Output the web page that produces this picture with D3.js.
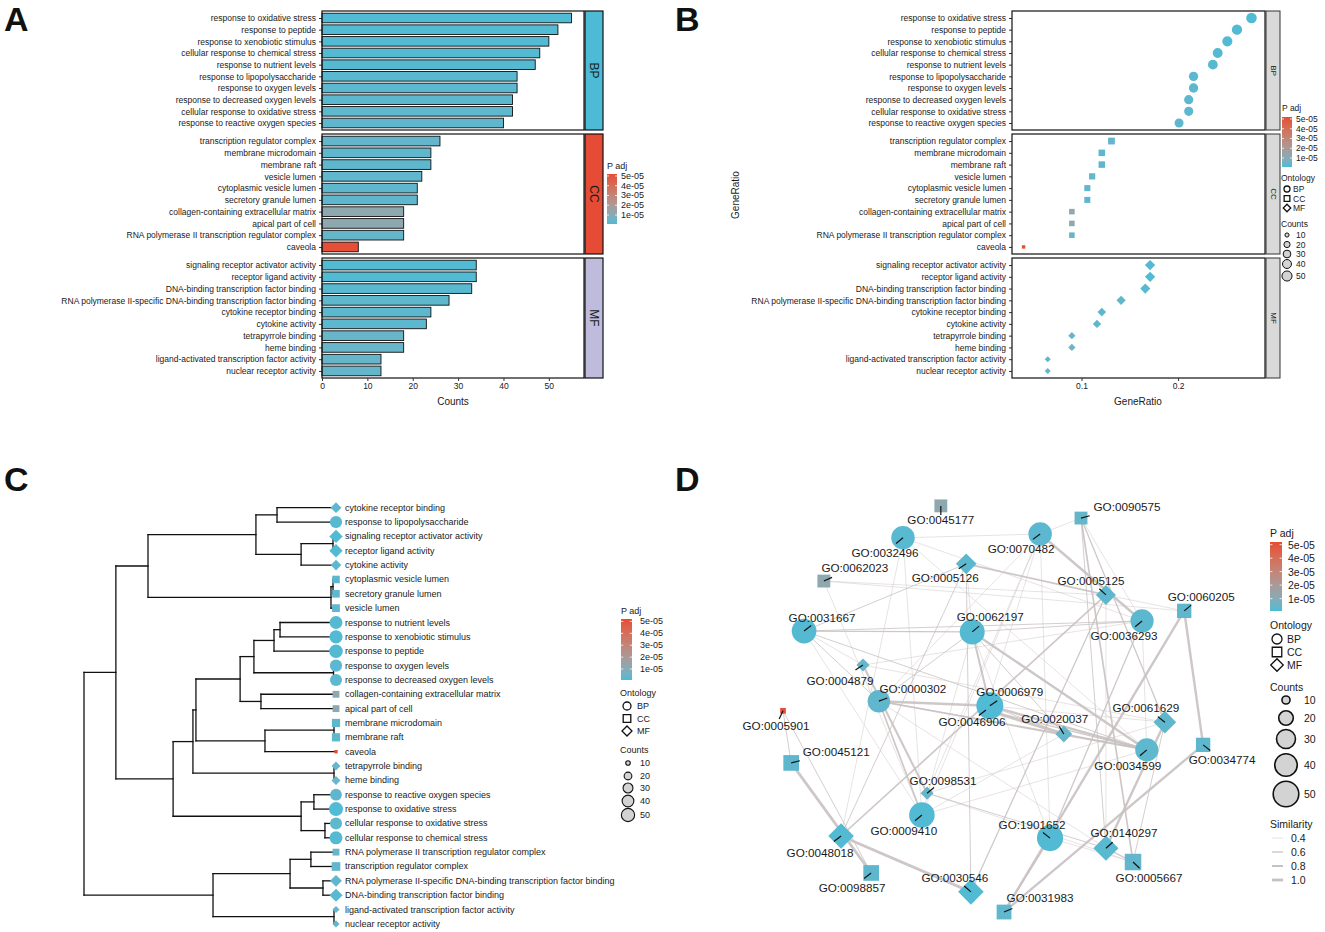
<!DOCTYPE html>
<html>
<head>
<meta charset="utf-8">
<script src="https://cdn.jsdelivr.net/npm/d3@7"></script>
<style>
  body { margin: 0; background: #fff; }
  svg text { font-family: Arial, "Liberation Sans", Helvetica, sans-serif; fill: #1a1a1a; }
</style>
</head>
<body>
<svg id="chart" width="1325" height="932"></svg>
<script>
// ---------------- data ----------------
const ontologies = ['BP', 'CC', 'MF'];

const bpNames = ['response to oxidative stress', 'response to peptide', 'response to xenobiotic stimulus',
  'cellular response to chemical stress', 'response to nutrient levels', 'response to lipopolysaccharide',
  'response to oxygen levels', 'response to decreased oxygen levels', 'cellular response to oxidative stress',
  'response to reactive oxygen species'];
const bpIds = ['GO:0006979', 'GO:1901652', 'GO:0009410', 'GO:0062197', 'GO:0031667', 'GO:0032496',
  'GO:0070482', 'GO:0036293', 'GO:0034599', 'GO:0000302'];
const bpCounts = [55, 52, 50, 48, 47, 43, 43, 42, 42, 40];
const bpRatio = [0.276, 0.261, 0.251, 0.241, 0.236, 0.216, 0.216, 0.211, 0.211, 0.201];
const bpPadj = [1.2e-6, 1.3e-6, 1.5e-6, 1.6e-6, 1.8e-6, 2.2e-6, 2.4e-6, 2.6e-6, 2.8e-6, 3.1e-6];

const ccNames = ['transcription regulator complex', 'membrane microdomain', 'membrane raft', 'vesicle lumen',
  'cytoplasmic vesicle lumen', 'secretory granule lumen', 'collagen-containing extracellular matrix',
  'apical part of cell', 'RNA polymerase II transcription regulator complex', 'caveola'];
const ccIds = ['GO:0005667', 'GO:0098857', 'GO:0045121', 'GO:0031983', 'GO:0060205', 'GO:0034774',
  'GO:0062023', 'GO:0045177', 'GO:0090575', 'GO:0005901'];
const ccCounts = [26, 24, 24, 22, 21, 21, 18, 18, 18, 8];
const ccRatio = [0.131, 0.121, 0.121, 0.111, 0.106, 0.106, 0.090, 0.090, 0.090, 0.040];
const ccPadj = [3.5e-6, 2.9e-6, 2.9e-6, 3.2e-6, 3.0e-6, 3.0e-6, 1.2e-5, 1.2e-5, 4.0e-6, 5.1e-5];

const mfNames = ['signaling receptor activator activity', 'receptor ligand activity',
  'DNA-binding transcription factor binding', 'RNA polymerase II-specific DNA-binding transcription factor binding',
  'cytokine receptor binding', 'cytokine activity', 'tetrapyrrole binding', 'heme binding',
  'ligand-activated transcription factor activity', 'nuclear receptor activity'];
const mfIds = ['GO:0030546', 'GO:0048018', 'GO:0140297', 'GO:0061629', 'GO:0005126', 'GO:0005125',
  'GO:0046906', 'GO:0020037', 'GO:0098531', 'GO:0004879'];
const mfCounts = [34, 34, 33, 28, 24, 23, 18, 18, 13, 13];
const mfRatio = [0.171, 0.171, 0.166, 0.141, 0.121, 0.116, 0.090, 0.090, 0.065, 0.065];
const mfPadj = [1.5e-6, 1.5e-6, 2.1e-6, 3.0e-6, 2.5e-6, 2.7e-6, 4.5e-6, 4.5e-6, 3.8e-6, 3.8e-6];

const padjTicks = [1e-5, 2e-5, 3e-5, 4e-5, 5e-5];
const countTicks = [10, 20, 30, 40, 50];
const similarityTicks = [0.4, 0.6, 0.8, 1.0];

// clustering tree of panel C (h = merge height, root = 1)
const goTree = {h: 1.0, c: [
  {h: 0.873, c: [
    {h: 0.745, c: [
      {h: 0.315, c: [
        {h: 0.231, c: ['cytokine receptor binding', 'response to lipopolysaccharide']},
        {h: 0.135, c: [
          {h: 0.008, c: ['signaling receptor activator activity', 'receptor ligand activity']},
          'cytokine activity']}
      ]},
      {h: 0.016, c: [
        {h: 0.008, c: ['cytoplasmic vesicle lumen', 'secretory granule lumen']},
        'vesicle lumen']}
    ]},
    {h: 0.645, c: [
      {h: 0.566, c: [
        {h: 0.554, c: [
          {h: 0.378, c: [
            {h: 0.323, c: [
              {h: 0.243, c: [
                {h: 0.219, c: ['response to nutrient levels', 'response to xenobiotic stimulus']},
                'response to peptide']},
              {h: 0.006, c: ['response to oxygen levels', 'response to decreased oxygen levels']}
            ]},
            {h: 0.295, c: ['collagen-containing extracellular matrix', 'apical part of cell']}
          ]},
          {h: 0.279, c: [
            {h: 0.004, c: ['membrane microdomain', 'membrane raft']},
            'caveola']}
        ]},
        {h: 0.004, c: ['tetrapyrrole binding', 'heme binding']}
      ]},
      {h: 0.135, c: [
        {h: 0.084, c: ['response to reactive oxygen species', 'response to oxidative stress']},
        {h: 0.040, c: ['cellular response to oxidative stress', 'cellular response to chemical stress']}
      ]}
    ]}
  ]},
  {h: 0.486, c: [
    {h: 0.179, c: [
      {h: 0.096, c: ['RNA polymerase II transcription regulator complex', 'transcription regulator complex']},
      {h: 0.048, c: ['RNA polymerase II-specific DNA-binding transcription factor binding',
        'DNA-binding transcription factor binding']}
    ]},
    {h: 0.004, c: ['ligand-activated transcription factor activity', 'nuclear receptor activity']}
  ]}
]};

// network of panel D: layout coordinates (0..1) and similarity edges
const netIds = ['GO:0045177', 'GO:0090575', 'GO:0032496', 'GO:0070482', 'GO:0062023', 'GO:0005126',
  'GO:0005125', 'GO:0060205', 'GO:0031667', 'GO:0062197', 'GO:0036293', 'GO:0004879', 'GO:0000302',
  'GO:0046906', 'GO:0006979', 'GO:0020037', 'GO:0061629', 'GO:0005901', 'GO:0045121', 'GO:0034599',
  'GO:0034774', 'GO:0098531', 'GO:0009410', 'GO:1901652', 'GO:0140297', 'GO:0048018', 'GO:0005667',
  'GO:0098857', 'GO:0030546', 'GO:0031983'];
const netLayoutX = [0.374, 0.700, 0.286, 0.605, 0.102, 0.433, 0.758, 0.940, 0.056, 0.447, 0.842, 0.193, 0.230,
  0.479, 0.488, 0.660, 0.895, 0.007, 0.026, 0.853, 0.984, 0.342, 0.330, 0.628, 0.758, 0.142, 0.821,
  0.212, 0.444, 0.521];
const netLayoutY = [0.014, 0.043, 0.090, 0.081, 0.193, 0.152, 0.226, 0.264, 0.312, 0.314, 0.288, 0.393, 0.479,
  0.500, 0.490, 0.557, 0.529, 0.502, 0.626, 0.595, 0.583, 0.698, 0.750, 0.805, 0.829, 0.800, 0.862,
  0.888, 0.933, 0.981];
const netEdges = [
  ['GO:0006979', 'GO:0000302', 0.9], ['GO:0006979', 'GO:0034599', 0.9], ['GO:0006979', 'GO:0062197', 0.8],
  ['GO:0000302', 'GO:0034599', 0.7], ['GO:0062197', 'GO:0034599', 0.9], ['GO:0062197', 'GO:0031667', 0.6],
  ['GO:0031667', 'GO:0036293', 0.5], ['GO:0062197', 'GO:0036293', 0.5], ['GO:0070482', 'GO:0036293', 0.9],
  ['GO:0070482', 'GO:0000302', 0.4], ['GO:0070482', 'GO:0009410', 0.4], ['GO:0070482', 'GO:0098531', 0.4],
  ['GO:0070482', 'GO:0046906', 0.4], ['GO:0070482', 'GO:1901652', 0.4], ['GO:0032496', 'GO:0070482', 0.4],
  ['GO:0032496', 'GO:0009410', 0.4], ['GO:0032496', 'GO:0036293', 0.4], ['GO:0032496', 'GO:0048018', 0.4],
  ['GO:0032496', 'GO:0034599', 0.4], ['GO:0031667', 'GO:0000302', 0.5], ['GO:0031667', 'GO:0009410', 0.4],
  ['GO:0031667', 'GO:0034599', 0.5], ['GO:0031667', 'GO:0005126', 0.5], ['GO:0031667', 'GO:0004879', 0.4],
  ['GO:0000302', 'GO:0009410', 0.7], ['GO:0000302', 'GO:0062197', 0.5], ['GO:0000302', 'GO:0020037', 0.5],
  ['GO:0000302', 'GO:0140297', 0.4], ['GO:1901652', 'GO:0036293', 0.6], ['GO:1901652', 'GO:0062197', 0.4],
  ['GO:1901652', 'GO:0031983', 0.6], ['GO:1901652', 'GO:0005667', 0.4], ['GO:0009410', 'GO:0062197', 0.4],
  ['GO:0009410', 'GO:0034599', 0.4], ['GO:0009410', 'GO:0020037', 0.4], ['GO:0034599', 'GO:0036293', 0.4],
  ['GO:0034599', 'GO:0020037', 0.6], ['GO:0034599', 'GO:0046906', 0.6], ['GO:0006979', 'GO:0020037', 0.5],
  ['GO:0006979', 'GO:0061629', 0.4], ['GO:0045121', 'GO:0098857', 1.0], ['GO:0005901', 'GO:0045121', 0.5],
  ['GO:0005901', 'GO:0098857', 0.5], ['GO:0060205', 'GO:0034774', 0.9], ['GO:0060205', 'GO:0031983', 0.9],
  ['GO:0034774', 'GO:0031983', 0.9], ['GO:0090575', 'GO:0005667', 0.7], ['GO:0090575', 'GO:0070482', 0.4],
  ['GO:0090575', 'GO:0061629', 0.6], ['GO:0090575', 'GO:0140297', 0.5], ['GO:0090575', 'GO:0036293', 0.4],
  ['GO:0062023', 'GO:0060205', 0.4], ['GO:0062023', 'GO:0005125', 0.4], ['GO:0062023', 'GO:0009410', 0.4],
  ['GO:0048018', 'GO:0030546', 1.0], ['GO:0005125', 'GO:0005126', 0.7], ['GO:0005125', 'GO:0048018', 0.7],
  ['GO:0005125', 'GO:0030546', 0.6], ['GO:0005125', 'GO:0060205', 0.4], ['GO:0005125', 'GO:0140297', 0.4],
  ['GO:0005126', 'GO:0048018', 0.5], ['GO:0005126', 'GO:0030546', 0.5], ['GO:0005126', 'GO:0062197', 0.4],
  ['GO:0046906', 'GO:0020037', 1.0], ['GO:0140297', 'GO:0061629', 0.9], ['GO:0140297', 'GO:0005667', 0.6],
  ['GO:0061629', 'GO:0005667', 0.5], ['GO:0004879', 'GO:0098531', 0.8], ['GO:0004879', 'GO:0061629', 0.4],
  ['GO:0004879', 'GO:0036293', 0.4], ['GO:0098531', 'GO:0140297', 0.5], ['GO:0098531', 'GO:0005667', 0.4],
  ['GO:0098531', 'GO:0061629', 0.4], ['GO:0062197', 'GO:0020037', 0.5]
];

// where each network label sits relative to its node (px)
const labelNudge = {
  'GO:0045177': [0, 14], 'GO:0090575': [46, -12], 'GO:0032496': [-18, 15], 'GO:0070482': [-19, 14],
  'GO:0062023': [31, -14], 'GO:0005126': [-21, 14], 'GO:0005125': [-15, -14], 'GO:0060205': [17, -14],
  'GO:0031667': [18, -14], 'GO:0062197': [18, -15], 'GO:0036293': [-18, 15], 'GO:0004879': [-23, 15],
  'GO:0000302': [34, -13], 'GO:0046906': [-14, 11], 'GO:0006979': [20, -14], 'GO:0020037': [-9, -15],
  'GO:0061629': [-19, -15], 'GO:0005901': [-7, 15], 'GO:0045121': [45, -11], 'GO:0034599': [-19, 16],
  'GO:0034774': [19, 15], 'GO:0098531': [16, -13], 'GO:0009410': [-18, 15], 'GO:1901652': [-18, -14],
  'GO:0140297': [18, -16], 'GO:0048018': [-21, 16], 'GO:0005667': [16, 15], 'GO:0098857': [-19, 15],
  'GO:0030546': [-16, -14], 'GO:0031983': [36, -15]
};

// ---------------- shared ----------------
const terms = [];
[[bpNames, bpIds, bpCounts, bpRatio, bpPadj, 'BP'],
 [ccNames, ccIds, ccCounts, ccRatio, ccPadj, 'CC'],
 [mfNames, mfIds, mfCounts, mfRatio, mfPadj, 'MF']].forEach(([n, ids, c, r, p, o]) => {
  n.forEach((name, i) => terms.push({name, id: ids[i], count: c[i], ratio: r[i], padj: p[i], ont: o}));
});
const termByName = new Map(terms.map(d => [d.name, d]));
const termById = new Map(terms.map(d => [d.id, d]));

const padjDomain = [8e-7, 5.2e-5];
const padjColor = d3.scaleLinear().domain(padjDomain).range(['#4DBBD5', '#E64B35']).interpolate(d3.interpolateLab);
const fmtPadj = v => Math.round(v / 1e-5) + 'e-05';

const svg = d3.select('#chart');

// gradient definition for the colourbars
const grad = svg.append('defs').append('linearGradient').attr('id', 'padjGrad')
  .attr('x1', 0).attr('x2', 0).attr('y1', 1).attr('y2', 0);
d3.range(0, 1.0001, 0.1).forEach(t => {
  grad.append('stop').attr('offset', t).attr('stop-color', padjColor(padjDomain[0] + t * (padjDomain[1] - padjDomain[0])));
});

// symbol for a term: circle / square / diamond by ontology
function shape(ont, r) {
  if (ont === 'BP') return d3.symbol().type(d3.symbolCircle).size(Math.PI * r * r)();
  if (ont === 'CC') return d3.symbol().type(d3.symbolSquare).size(Math.pow(1.9 * r, 2))();
  return d3.symbol().type(d3.symbolSquare).size(Math.pow(1.768 * r, 2))();
}
const shapeRot = ont => (ont === 'MF' ? ' rotate(45)' : '');

function panelLetter(txt, x, y) {
  svg.append('text').attr('x', x).attr('y', y).attr('font-size', 34).attr('font-weight', 'bold')
    .style('fill', '#111').text(txt);
}

function padjLegend(x, top, w, h, fs, titleY, labelX) {
  const g = svg.append('g');
  const ly = d3.scaleLinear().domain(padjDomain).range([top + h, top]);
  g.append('text').attr('x', x).attr('y', titleY).attr('dominant-baseline', 'central').attr('font-size', fs).text('P adj');
  g.append('rect').attr('x', x).attr('y', top).attr('width', w).attr('height', h).attr('fill', 'url(#padjGrad)');
  padjTicks.forEach(v => {
    g.append('line').attr('x1', x).attr('x2', x + w * 0.2).attr('y1', ly(v)).attr('y2', ly(v)).attr('stroke', '#fff').attr('stroke-width', 0.8);
    g.append('line').attr('x1', x + w * 0.8).attr('x2', x + w).attr('y1', ly(v)).attr('y2', ly(v)).attr('stroke', '#fff').attr('stroke-width', 0.8);
    g.append('text').attr('x', labelX).attr('y', ly(v)).attr('dominant-baseline', 'central').attr('font-size', fs).text(fmtPadj(v));
  });
}

function ontologyLegend(x, titleY, rows, symX, r, labelX, fs) {
  const g = svg.append('g');
  g.append('text').attr('x', x).attr('y', titleY).attr('dominant-baseline', 'central').attr('font-size', fs).text('Ontology');
  ontologies.forEach((o, i) => {
    g.append('path').attr('d', shape(o, r)).attr('transform', `translate(${symX},${rows[i]})${shapeRot(o)}`)
      .attr('fill', 'none').attr('stroke', '#111').attr('stroke-width', 1.3);
    g.append('text').attr('x', labelX).attr('y', rows[i]).attr('dominant-baseline', 'central').attr('font-size', fs).text(o);
  });
}

function countLegend(x, titleY, rows, symX, size, labelX, fs, sw) {
  const g = svg.append('g');
  g.append('text').attr('x', x).attr('y', titleY).attr('dominant-baseline', 'central').attr('font-size', fs).text('Counts');
  countTicks.forEach((c, i) => {
    g.append('circle').attr('cx', symX).attr('cy', rows[i]).attr('r', size(c))
      .attr('fill', '#d3d3d3').attr('stroke', '#111').attr('stroke-width', sw);
    g.append('text').attr('x', labelX).attr('y', rows[i]).attr('dominant-baseline', 'central').attr('font-size', fs).text(c);
  });
}

const facetY = {BP: [11, 130], CC: [134, 254], MF: [258, 378]};

function styleAxis(ax, fs) {
  ax.select('.domain').remove();
  ax.selectAll('.tick line').attr('stroke', '#333');
  ax.selectAll('.tick text').attr('font-size', fs).style('fill', '#1a1a1a');
}

// ---------------- panel A : bar chart ----------------
const gA = svg.append('g');
const xA = d3.scaleLinear().domain([0, 57.75]).range([322, 584]);
const stripColor = {BP: '#4DBBD5', CC: '#E64B35', MF: '#BFBBDC'};

ontologies.forEach(o => {
  const rows = terms.filter(d => d.ont === o);
  const [y0, y1] = facetY[o];
  const y = d3.scalePoint().domain(rows.map(d => d.name)).range([y0, y1]).padding(0.6);
  const bh = y.step() * 0.82;
  gA.append('g').selectAll('rect').data(rows).join('rect')
    .attr('x', xA(0)).attr('y', d => y(d.name) - bh / 2)
    .attr('width', d => xA(d.count) - xA(0)).attr('height', bh)
    .attr('fill', d => padjColor(d.padj)).attr('stroke', '#111').attr('stroke-width', 0.9);
  const ax = gA.append('g').attr('transform', `translate(${xA(0)},0)`)
    .call(d3.axisLeft(y).tickSize(3).tickPadding(3));
  styleAxis(ax, 8.5);
  gA.append('rect').attr('x', 322).attr('y', y0).attr('width', 262).attr('height', y1 - y0)
    .attr('fill', 'none').attr('stroke', '#111').attr('stroke-width', 1.2);
  gA.append('rect').attr('x', 585).attr('y', y0).attr('width', 18).attr('height', y1 - y0)
    .attr('fill', stripColor[o]).attr('stroke', '#111').attr('stroke-width', 1.2);
  gA.append('text').attr('transform', `translate(594,${(y0 + y1) / 2}) rotate(90)`)
    .attr('text-anchor', 'middle').attr('dominant-baseline', 'central').attr('font-size', 12).text(o);
});
styleAxis(gA.append('g').attr('transform', 'translate(0,378)')
  .call(d3.axisBottom(xA).tickValues([0, 10, 20, 30, 40, 50]).tickSize(3).tickPadding(2)), 8.5);
gA.append('text').attr('x', 453).attr('y', 401).attr('text-anchor', 'middle').attr('dominant-baseline', 'central')
  .attr('font-size', 10).text('Counts');
padjLegend(607, 174, 10, 50, 9, 166, 621);
panelLetter('A', 4, 31);

// ---------------- panel B : dot plot ----------------
const gB = svg.append('g');
const xB = d3.scaleLinear().domain([0.028, 0.29]).range([1012, 1265]);
const sizeB = d3.scaleRadial().domain([8, 55]).range([1.8, 5.3]);

ontologies.forEach(o => {
  const rows = terms.filter(d => d.ont === o);
  const [y0, y1] = facetY[o];
  const y = d3.scalePoint().domain(rows.map(d => d.name)).range([y0, y1]).padding(0.6);
  gB.append('g').selectAll('path').data(rows).join('path')
    .attr('d', d => shape(o, sizeB(d.count)))
    .attr('transform', d => `translate(${xB(d.ratio)},${y(d.name)})${shapeRot(o)}`)
    .attr('fill', d => padjColor(d.padj));
  const ax = gB.append('g').attr('transform', `translate(${xB.range()[0]},0)`)
    .call(d3.axisLeft(y).tickSize(3).tickPadding(3));
  styleAxis(ax, 8.5);
  gB.append('rect').attr('x', 1012).attr('y', y0).attr('width', 253).attr('height', y1 - y0)
    .attr('fill', 'none').attr('stroke', '#111').attr('stroke-width', 1.2);
  gB.append('rect').attr('x', 1266).attr('y', y0).attr('width', 14).attr('height', y1 - y0)
    .attr('fill', '#d9d9d9').attr('stroke', '#333').attr('stroke-width', 1);
  gB.append('text').attr('transform', `translate(1273,${(y0 + y1) / 2}) rotate(90)`)
    .attr('text-anchor', 'middle').attr('dominant-baseline', 'central').attr('font-size', 8).text(o);
});
styleAxis(gB.append('g').attr('transform', 'translate(0,378)')
  .call(d3.axisBottom(xB).tickValues([0.1, 0.2]).tickFormat(d3.format('.1f')).tickSize(3).tickPadding(2)), 8.5);
gB.append('text').attr('x', 1138).attr('y', 401).attr('text-anchor', 'middle').attr('dominant-baseline', 'central')
  .attr('font-size', 10).text('GeneRatio');
gB.append('text').attr('transform', 'translate(735,195) rotate(-90)').attr('text-anchor', 'middle')
  .attr('dominant-baseline', 'central').attr('font-size', 10).text('GeneRatio');
padjLegend(1282, 117, 10, 50, 8.5, 108, 1296);
ontologyLegend(1281, 178, [189, 198.5, 208], 1287, 3, 1293, 8.5);
countLegend(1281, 224, [235, 244.5, 254, 264, 276], 1287, sizeB, 1296, 8.5, 1);
panelLetter('B', 675, 31);

// ---------------- panel C : tree plot ----------------
const gC = svg.append('g');
const root = d3.hierarchy(goTree, d => (typeof d === 'string' ? null : d.c));
const leaves = root.leaves();
const xC = d3.scaleLinear().domain([1, 0]).range([84, 335]);
const yC = d3.scalePoint().domain(leaves.map(d => d.data)).range([507.7, 923.9]);
const sizeC = d3.scaleRadial().domain([8, 55]).range([1.8, 7]);
root.eachAfter(n => {
  n.px = n.children ? xC(n.data.h) : xC(0);
  n.py = n.children ? (n.children[0].py + n.children[n.children.length - 1].py) / 2 : yC(n.data);
});
const treeLines = [];
root.each(n => {
  if (!n.children) return;
  const ys = n.children.map(c => c.py);
  treeLines.push([n.px, d3.min(ys), n.px, d3.max(ys)]);
  n.children.forEach(c => treeLines.push([n.px, c.py, c.px, c.py]));
});
gC.selectAll('line').data(treeLines).join('line')
  .attr('x1', d => d[0]).attr('y1', d => d[1]).attr('x2', d => d[2]).attr('y2', d => d[3])
  .attr('stroke', '#111').attr('stroke-width', 1.3).attr('stroke-linecap', 'square');
gC.append('g').selectAll('path').data(leaves).join('path')
  .attr('d', n => { const t = termByName.get(n.data); return shape(t.ont, sizeC(t.count)); })
  .attr('transform', n => `translate(${xC(0) + 1},${n.py})${shapeRot(termByName.get(n.data).ont)}`)
  .attr('fill', n => padjColor(termByName.get(n.data).padj));
gC.append('g').selectAll('text').data(leaves).join('text')
  .attr('x', 345).attr('y', n => n.py).attr('dominant-baseline', 'central').attr('font-size', 9)
  .text(n => n.data);
padjLegend(621, 619, 11, 61, 9, 611, 640);
ontologyLegend(620, 693, [706, 718.5, 731], 627, 4, 637, 9);
countLegend(620, 750, [763, 776, 788, 801, 815], 628, sizeC, 640, 9, 1.1);
panelLetter('C', 4, 491);

// ---------------- panel D : similarity network ----------------
const gD = svg.append('g');
const xD = d3.scaleLinear().domain([0, 1]).range([780, 1210]);
const yD = d3.scaleLinear().domain([0, 1]).range([500, 920]);
const sizeD = d3.scaleRadial().domain([8, 55]).range([3, 13.5]);
const edgeW = d3.scaleLinear().domain([0.4, 1]).range([0.5, 2.8]);
const nodes = netIds.map((id, i) => Object.assign({}, termById.get(id), {x: xD(netLayoutX[i]), y: yD(netLayoutY[i])}));
const nodeById = new Map(nodes.map(d => [d.id, d]));

gD.append('g').selectAll('line').data(netEdges).join('line')
  .attr('x1', d => nodeById.get(d[0]).x).attr('y1', d => nodeById.get(d[0]).y)
  .attr('x2', d => nodeById.get(d[1]).x).attr('y2', d => nodeById.get(d[1]).y)
  .attr('stroke', '#c9c1c1').attr('stroke-opacity', 0.9).attr('stroke-width', d => edgeW(d[2]));
gD.append('g').selectAll('path').data(nodes).join('path')
  .attr('d', d => shape(d.ont, sizeD(d.count)))
  .attr('transform', d => `translate(${d.x},${d.y})${shapeRot(d.ont)}`)
  .attr('fill', d => padjColor(d.padj));
gD.append('g').selectAll('line').data(nodes).join('line')
  .attr('x1', d => d.x).attr('y1', d => d.y)
  .attr('x2', d => { const [dx, dy] = labelNudge[d.id]; return d.x + 9 * dx / Math.hypot(dx, dy); })
  .attr('y2', d => { const [dx, dy] = labelNudge[d.id]; return d.y + 9 * dy / Math.hypot(dx, dy); })
  .attr('stroke', '#111').attr('stroke-width', 1.2);
gD.append('g').selectAll('text').data(nodes).join('text')
  .attr('x', d => d.x + labelNudge[d.id][0]).attr('y', d => d.y + labelNudge[d.id][1])
  .attr('text-anchor', 'middle').attr('dominant-baseline', 'central').attr('font-size', 11.7)
  .text(d => d.id);

padjLegend(1270, 542, 12, 69, 10.5, 533, 1288);
ontologyLegend(1270, 625, [639, 652, 665], 1277, 5, 1287, 10.5);
countLegend(1270, 687, [700, 718, 739, 765, 794], 1286, sizeD, 1304, 10.5, 1.6);
{
  const g = svg.append('g');
  g.append('text').attr('x', 1270).attr('y', 824).attr('dominant-baseline', 'central').attr('font-size', 10.5).text('Similarity');
  similarityTicks.forEach((s, i) => {
    const yy = 838 + i * 14;
    g.append('line').attr('x1', 1272).attr('x2', 1283).attr('y1', yy).attr('y2', yy)
      .attr('stroke', '#c9c1c1').attr('stroke-width', edgeW(s));
    g.append('text').attr('x', 1291).attr('y', yy).attr('dominant-baseline', 'central').attr('font-size', 10.5).text(s.toFixed(1));
  });
}
panelLetter('D', 675, 491);
</script>
</body>
</html>
